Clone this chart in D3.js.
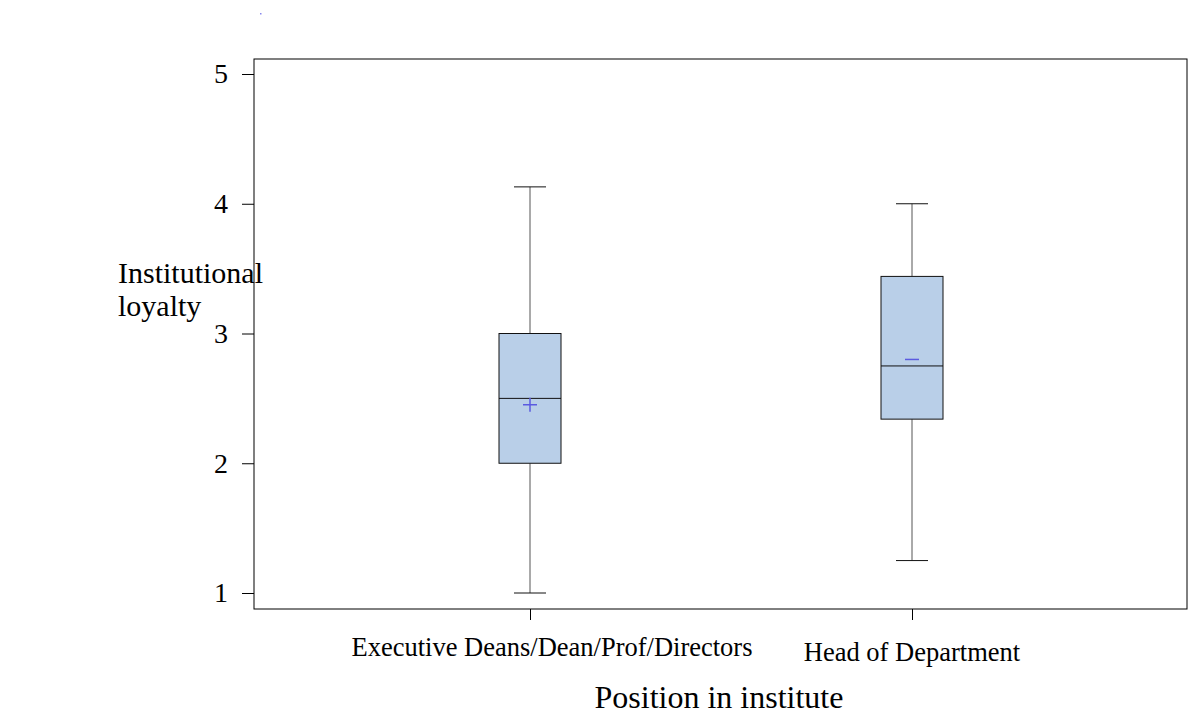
<!DOCTYPE html>
<html>
<head>
<meta charset="utf-8">
<script src="https://cdn.jsdelivr.net/npm/d3@7"></script>
<style>
  body { margin: 0; background: #fff; }
  text { font-family: "Liberation Serif", "Times New Roman", serif; fill: #000; }
</style>
</head>
<body>
<svg width="1191" height="718"></svg>
<script>
// data
const categories = ["Executive Deans/Dean/Prof/Directors", "Head of Department"];
const whiskerLow = [1.0, 1.25];
const q1 = [2.0, 2.34];
const medians = [2.5, 2.75];
const q3 = [3.0, 3.44];
const whiskerHigh = [4.13, 4.0];
const means = [2.45, 2.8];
const meanSymbols = ["+", "-"];
const yTicks = [1, 2, 3, 4, 5];

const svg = d3.select("svg");

// plot frame
const frameLeft = 254, frameRight = 1187, frameTop = 59, frameBottom = 609;

const x = d3.scalePoint()
  .domain(categories)
  .range([530, 912]);

const y = d3.scaleLinear()
  .domain([1, 5])
  .range([593, 74]);

svg.append("rect")
  .attr("x", frameLeft).attr("y", frameTop)
  .attr("width", frameRight - frameLeft).attr("height", frameBottom - frameTop)
  .attr("fill", "none").attr("stroke", "#000").attr("stroke-width", 1);

// y axis
const yAxis = svg.append("g")
  .attr("transform", `translate(${frameLeft},0)`)
  .call(d3.axisLeft(y).tickValues(yTicks).tickSize(12).tickPadding(14).tickFormat(d3.format("d")));
yAxis.select(".domain").remove();
yAxis.selectAll("text").style("font-size", "28px").attr("font-family", null);

// x axis ticks only (labels placed by hand below)
const xAxis = svg.append("g")
  .attr("transform", `translate(0,${frameBottom})`)
  .call(d3.axisBottom(x).tickSize(11).tickFormat(""));
xAxis.select(".domain").remove();

// boxes
const boxW = 62, capW = 32;
const rows = categories.map((c, i) => ({
  c, lo: whiskerLow[i], q1: q1[i], med: medians[i], q3: q3[i], hi: whiskerHigh[i],
  mean: means[i], sym: meanSymbols[i]
}));

const g = svg.append("g").selectAll("g").data(rows).join("g");

g.append("line")
  .attr("x1", d => x(d.c)).attr("x2", d => x(d.c))
  .attr("y1", d => y(d.hi)).attr("y2", d => y(d.q3))
  .attr("stroke", "#555");
g.append("line")
  .attr("x1", d => x(d.c)).attr("x2", d => x(d.c))
  .attr("y1", d => y(d.q1)).attr("y2", d => y(d.lo))
  .attr("stroke", "#555");
g.append("line")
  .attr("x1", d => x(d.c) - capW / 2).attr("x2", d => x(d.c) + capW / 2)
  .attr("y1", d => y(d.hi)).attr("y2", d => y(d.hi))
  .attr("stroke", "#111");
g.append("line")
  .attr("x1", d => x(d.c) - capW / 2).attr("x2", d => x(d.c) + capW / 2)
  .attr("y1", d => y(d.lo)).attr("y2", d => y(d.lo))
  .attr("stroke", "#111");

g.append("rect")
  .attr("x", d => x(d.c) - boxW / 2)
  .attr("y", d => y(d.q3))
  .attr("width", boxW)
  .attr("height", d => y(d.q1) - y(d.q3))
  .attr("fill", "#b9cfe8")
  .attr("stroke", "#111");

g.append("line")
  .attr("x1", d => x(d.c) - boxW / 2).attr("x2", d => x(d.c) + boxW / 2)
  .attr("y1", d => y(d.med)).attr("y2", d => y(d.med))
  .attr("stroke", "#111");

// mean markers
g.append("path")
  .attr("d", d => {
    const cx = x(d.c), cy = y(d.mean);
    return d.sym === "+"
      ? `M${cx - 7},${cy}H${cx + 7}M${cx},${cy - 7}V${cy + 7}`
      : `M${cx - 7},${cy}H${cx + 7}`;
  })
  .attr("stroke", "#5b5be0").attr("stroke-width", 1.5).attr("fill", "none");

// category labels
const labelX = [552, 912];
const labelY = [656, 661];
svg.append("g").selectAll("text").data(categories).join("text")
  .attr("x", (d, i) => labelX[i])
  .attr("y", (d, i) => labelY[i])
  .attr("text-anchor", "middle")
  .style("font-size", "26.5px")
  .text(d => d);

// axis titles
svg.append("text")
  .attr("x", 719).attr("y", 708)
  .attr("text-anchor", "middle")
  .style("font-size", "32px")
  .text("Position in institute");

const yt = svg.append("text").attr("x", 118).attr("y", 283).style("font-size", "30px");
yt.append("tspan").attr("x", 118).text("Institutional");
yt.append("tspan").attr("x", 118).attr("dy", 33).text("loyalty");

// stray dot near the top
svg.append("rect").attr("x", 260).attr("y", 13).attr("width", 1.5).attr("height", 1.5).attr("fill", "#8888ee");
</script>
</body>
</html>
